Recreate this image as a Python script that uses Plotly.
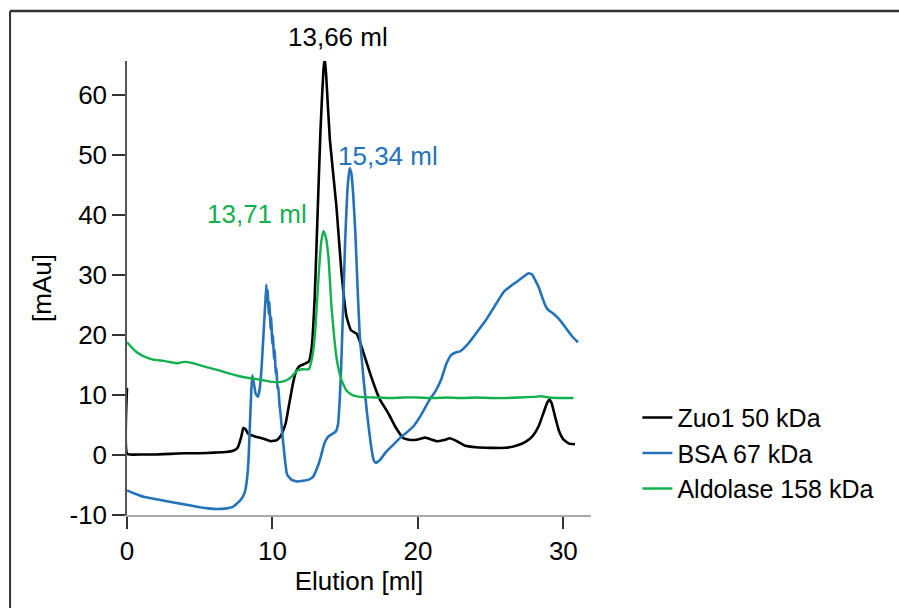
import plotly.graph_objects as go

# ---------------- data ----------------
zuo1_x = [0, 0.02, 1, 2, 3, 4, 5, 6, 6.8, 7.3, 7.6, 7.85, 8.0, 8.15, 8.35, 8.8, 9.4, 9.9,
          10.3, 10.6, 10.9, 11.15, 11.4, 11.6, 11.85, 12.2, 12.5, 12.7, 12.9, 13.1, 13.3,
          13.5, 13.6, 13.7, 13.95, 14.4, 14.75, 15.1, 15.4, 15.8, 16.2, 16.7, 17.2,
          17.4, 18.0, 18.5, 19.0, 19.5, 20.0, 20.5, 20.9, 21.3, 21.8, 22.2, 22.6, 23.2,
          24, 25, 26, 26.8, 27.4, 27.9, 28.3, 28.6, 28.9, 29.05, 29.2, 29.45, 29.7, 30.0,
          30.4, 30.8]
zuo1_y = [11.2, 0.2, 0.1, 0.1, 0.2, 0.3, 0.3, 0.4, 0.5, 0.7, 1.2, 3.0, 4.5, 4.3, 3.5, 3.1,
          2.7, 2.3, 2.5, 3.3, 5.2, 8.5, 11.8, 13.8, 14.8, 15.2, 15.6, 18.0, 26, 40, 54,
          64, 66.3, 63, 52.5, 41.4, 30.3, 23.0, 20.8, 20.2, 17.5, 13.7, 10.3, 9.2, 6.8,
          4.5, 2.8, 2.5, 2.6, 2.9, 2.6, 2.3, 2.5, 2.8, 2.4, 1.6, 1.3, 1.2, 1.2, 1.6, 2.2,
          3.2, 4.8, 6.8, 8.8, 9.2, 8.6, 6.2, 4.0, 2.6, 1.9, 1.8]

bsa_x = [0, 0.5, 1.2, 2.3, 3.2, 4.1, 5.0, 5.6, 6.2, 6.85, 7.3, 7.6, 7.9, 8.1, 8.25, 8.35,
         8.45, 8.55, 8.62, 8.72, 8.85, 9.0, 9.12, 9.25, 9.38, 9.5, 9.58, 9.63, 9.68, 9.74,
         9.8, 9.86, 9.92, 9.98, 10.04, 10.1, 10.16, 10.22, 10.28, 10.34, 10.4, 10.48,
         10.55, 10.7, 10.86, 11.0, 11.3, 11.7, 12.1, 12.5, 12.8, 13.05, 13.3, 13.55, 13.8,
         14.1, 14.35, 14.5, 14.62, 14.72, 14.85, 15.0, 15.15, 15.3, 15.42, 15.55, 15.7,
         15.85, 16.0, 16.25, 16.5, 16.75, 16.95, 17.1, 17.4, 17.8, 18.3, 18.8, 19.3, 19.7,
         20.2, 20.8, 21.2, 21.6, 21.97, 22.3, 22.6, 22.9, 23.4, 24.0, 24.7, 25.4, 25.9,
         26.4, 26.8, 27.3, 27.6, 27.85, 28.1, 28.3, 28.5, 28.75, 28.95, 29.3, 29.76, 30.2,
         30.6, 31.0]
bsa_y = [-5.9, -6.4, -7.0, -7.5, -7.9, -8.3, -8.7, -8.9, -9.0, -8.9, -8.6, -8.0, -7.2,
         -6.2, -4.0, -1.0, 5.0, 11.0, 13.3, 12.0, 10.2, 9.7, 11, 14.5, 20, 25, 28.4, 25.5,
         27.5, 23.5, 25.5, 21, 23, 18.5, 20, 16, 17.5, 13.5, 14.5, 11, 11.5, 8.5, 7, 3,
         -0.8, -3.2, -4.1, -4.4, -4.3, -4.1, -3.6, -2.3, -0.5, 1.8, 3.0, 3.5, 3.9, 5.0, 9,
         14.5, 24, 35.8, 44, 47.8, 47, 43.5, 37, 28, 20, 13, 7, 2, -0.8, -1.3, -0.8, 0.5,
         1.7, 2.9, 3.9, 4.8, 6.6, 9.2, 10.6, 12.6, 15.3, 16.7, 17.1, 17.3, 18.4, 20.3,
         22.6, 25.3, 27.2, 28.2, 28.9, 29.8, 30.3, 30.1, 29.0, 28.0, 26.6, 25.0, 24.2,
         23.6, 22.5, 21.1, 19.8, 18.8]

aldo_x = [0, 0.3, 0.7, 1.2, 1.8, 2.5, 3.2, 3.5, 3.8, 4.2, 4.7, 5.4, 6.2, 7.0, 7.8, 8.5,
          9.3, 10.0, 10.6, 11.0, 11.4, 11.7, 12.1, 12.5, 12.75, 12.95, 13.15, 13.35, 13.5,
          13.65, 13.85, 14.05, 14.25, 14.45, 14.75, 15.1, 15.5, 16.0, 17, 18, 19, 20, 21,
          22, 23, 24, 25, 26, 27, 28, 28.5, 29, 30, 30.7]
aldo_y = [18.8, 18.0, 17.1, 16.4, 15.9, 15.7, 15.4, 15.3, 15.5, 15.5, 15.2, 14.7, 14.2,
          13.6, 13.1, 12.8, 12.5, 12.2, 12.2, 12.5, 13.3, 14.1, 14.3, 14.3, 16.5, 21, 29,
          35.5, 37.3, 36.5, 33, 25, 19.5, 15.5, 12.5, 10.7, 10.0, 9.7, 9.6, 9.5, 9.6, 9.6,
          9.5, 9.6, 9.5, 9.6, 9.5, 9.5, 9.6, 9.7, 9.8, 9.6, 9.5, 9.5]

series_names = ["Zuo1 50 kDa", "BSA 67 kDa", "Aldolase 158 kDa"]
series_colors = ["#000000", "#2473BA", "#13B04E"]

y_tickvals = [-10, 0, 10, 20, 30, 40, 50, 60]
y_ticktext = ["-10", "0", "10", "20", "30", "40", "50", "60"]
x_tickvals = [0, 10, 20, 30]
x_ticktext = ["0", "10", "20", "30"]

# peak labels: (text, x in data units, y, y reference, colour)
peak_labels = ["13,66 ml", "15,34 ml", "13,71 ml"]
peak_label_x = [14.53, 17.94, 8.93]
peak_label_y = [1.053, 49.8, 40.2]
peak_label_yref = ["paper", "y", "y"]
peak_label_colors = ["#000000", "#2473BA", "#13B04E"]

# ---------------- figure ----------------
FONT = "Liberation Sans, Arial, sans-serif"
fig = go.Figure()
for xs, ys, name, col, w in [(zuo1_x, zuo1_y, series_names[0], series_colors[0], 2.6),
                             (bsa_x, bsa_y, series_names[1], series_colors[1], 2.6),
                             (aldo_x, aldo_y, series_names[2], series_colors[2], 2.4)]:
    fig.add_trace(go.Scatter(x=xs, y=ys, mode="lines", name=name,
                             line=dict(color=col, width=w, shape="spline", smoothing=0.4),
                             cliponaxis=False))

for t, x, y, yr, c in zip(peak_labels, peak_label_x, peak_label_y, peak_label_yref,
                          peak_label_colors):
    fig.add_annotation(text=t, x=x, y=y, xref="x", yref=yr, showarrow=False,
                       font=dict(family=FONT, size=26, color=c),
                       xanchor="center", yanchor="middle")

# outer frame (left and top edges only)
fig.add_shape(type="line", xref="paper", yref="paper", x0=-0.252, x1=-0.252, y0=1.110, y1=-0.25,
              line=dict(color="#333333", width=2))
fig.add_shape(type="line", xref="paper", yref="paper", x0=-0.252, x1=1.70, y0=1.110, y1=1.110,
              line=dict(color="#333333", width=2.5))

fig.update_layout(
    width=899, height=608,
    margin=dict(l=127, r=308, t=61, b=93, autoexpand=False),
    paper_bgcolor="white", plot_bgcolor="white",
    font=dict(family=FONT, size=26, color="black"),
    showlegend=True,
    legend=dict(x=1.1, y=0.265, xanchor="left", yanchor="top",
                font=dict(family=FONT, size=25, color="black"),
                bgcolor="rgba(0,0,0,0)", itemwidth=30),
    xaxis=dict(range=[0, 31.9], showgrid=False, zeroline=False, showline=True,
               linecolor="#aaaaaa", linewidth=1.5, ticks="outside", ticklen=12,
               tickcolor="#333333", tickwidth=1.5, tickvals=x_tickvals, ticktext=x_ticktext,
               tickfont=dict(family=FONT, size=26),
               title=dict(text="Elution [ml]", font=dict(family=FONT, size=26), standoff=6)),
    yaxis=dict(range=[-10, 65.7], showgrid=False, zeroline=False, showline=True,
               linecolor="#555555", linewidth=1.5, ticks="outside", ticklen=13,
               tickcolor="#333333", tickwidth=1.5, tickvals=y_tickvals, ticktext=y_ticktext,
               tickfont=dict(family=FONT, size=26),
               title=dict(text="[mAu]", font=dict(family=FONT, size=26), standoff=10)),
)

fig.write_html("out.html")
